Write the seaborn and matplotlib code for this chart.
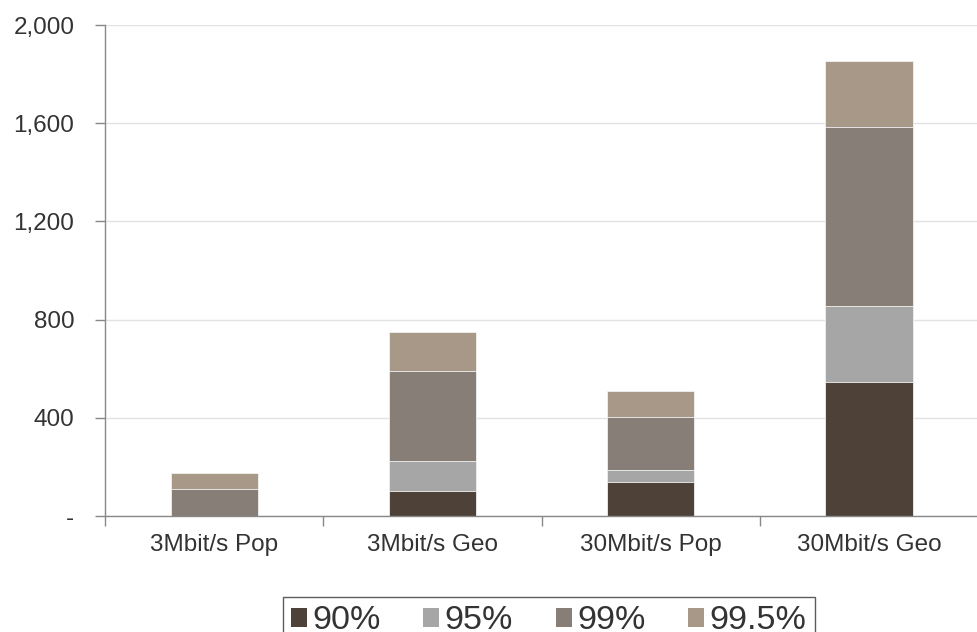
import numpy as np
import pandas as pd
import matplotlib
matplotlib.use("Agg")
import matplotlib.pyplot as plt
import seaborn as sns
from matplotlib.patches import Patch
from matplotlib.ticker import FuncFormatter, FixedLocator

# --- data ---
categories = ["3Mbit/s Pop", "3Mbit/s Geo", "30Mbit/s Pop", "30Mbit/s Geo"]
levels = ["90%", "95%", "99%", "99.5%"]
v90 = [0, 102, 138, 544]
v95 = [0, 122, 49, 311]
v99 = [111, 366, 217, 730]
v995 = [63, 158, 105, 268]
colors = ["#4d4138", "#a6a6a6", "#877e78", "#a89888"]

sns.set_theme(style="white")
plt.rcParams["font.family"] = ["Liberation Sans", "DejaVu Sans"]

df = pd.DataFrame({"category": categories, "90%": v90, "95%": v95,
                   "99%": v99, "99.5%": v995})
cum = df[levels].cumsum(axis=1)

fig = plt.figure(figsize=(9.78, 6.32), dpi=100)
ax = fig.add_axes([0.1074, 0.1835, 0.8926, 0.7769])

# stacked bars: draw cumulative totals from the top layer down
for lvl, col in reversed(list(zip(levels, colors))):
    sns.barplot(x=df["category"], y=cum[lvl], color=col, width=0.4,
                edgecolor="#f2f2f2", linewidth=0.6, saturation=1, ax=ax)

ax.set_ylim(0, 2000)
ax.set_xlim(-0.5, 3.5)
ax.set_yticks([0, 400, 800, 1200, 1600, 2000])
ax.yaxis.set_major_formatter(FuncFormatter(lambda v, p: "-" if v == 0 else f"{int(v):,}"))
ax.yaxis.grid(True, color="#e3e3e3", linewidth=1)
ax.set_axisbelow(True)
ax.set_xlabel("")
ax.set_ylabel("")

ax.xaxis.set_minor_locator(FixedLocator([-0.5, 0.5, 1.5, 2.5, 3.5]))
ax.tick_params(axis="x", which="major", length=0, labelsize=17.5, labelcolor="#333333", pad=13)
ax.tick_params(axis="x", which="minor", length=7, color="#888888", width=1, bottom=True)
ax.tick_params(axis="y", length=7, color="#888888", width=1, left=True,
               labelsize=17.5, labelcolor="#333333", pad=15)

for s in ["top", "right"]:
    ax.spines[s].set_visible(False)
for s in ["left", "bottom"]:
    ax.spines[s].set_color("#888888")
    ax.spines[s].set_linewidth(1)

handles = [Patch(facecolor=c, edgecolor="none", label=l) for l, c in zip(levels, colors)]
leg = fig.legend(handles=handles, loc="upper center", bbox_to_anchor=(0.561, 0.0554),
                 ncol=4, frameon=True, fancybox=False,
                 prop={"family": ["Liberation Sans Narrow", "Liberation Sans"], "size": 24.5},
                 handlelength=0.47, handleheight=0.47, handletextpad=0.15,
                 columnspacing=1.26, borderpad=0.25, borderaxespad=0,
                 labelcolor="#333333")
leg.get_frame().set_edgecolor("#333333")
leg.get_frame().set_linewidth(1)

fig.savefig("out.png", dpi=100)
